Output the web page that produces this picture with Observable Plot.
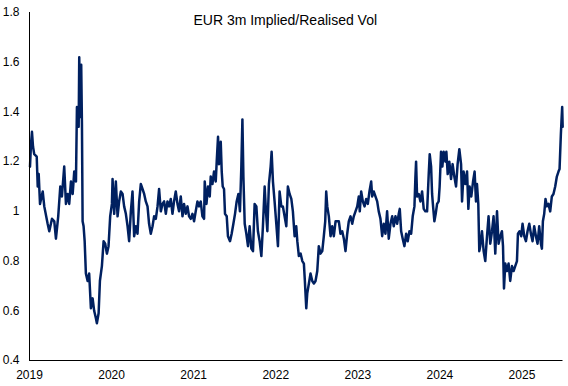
<!DOCTYPE html>
<html><head><meta charset="utf-8">
<script src="https://cdn.jsdelivr.net/npm/d3@7"></script>
<script src="https://cdn.jsdelivr.net/npm/@observablehq/plot@0.6"></script>
<style>body{margin:0;background:#fff;}</style>
</head><body><div id="chart"></div>
<script>
const title = "EUR 3m Implied/Realised Vol";
const yearTicks = [2019, 2020, 2021, 2022, 2023, 2024, 2025];
const yTicks = [0.4, 0.6, 0.8, 1, 1.2, 1.4, 1.6, 1.8];

// decimal-year dates of the readings
const dates = [
2019.006,2019.018,2019.030,2019.043,2019.058,2019.088,2019.100,2019.112,2019.128,2019.161,
2019.180,2019.221,2019.241,2019.274,2019.302,2019.322,2019.350,2019.375,2019.395,2019.423,
2019.444,2019.465,2019.484,2019.505,2019.526,2019.545,2019.566,2019.578,2019.599,2019.606,
2019.618,2019.630,2019.639,2019.647,2019.659,2019.672,2019.687,2019.708,2019.727,2019.748,
2019.769,2019.788,2019.809,2019.821,2019.842,2019.858,2019.882,2019.903,2019.922,2019.943,
2019.963,2019.983,2020.004,2020.012,2020.032,2020.052,2020.073,2020.092,2020.113,2020.134,
2020.153,2020.174,2020.195,2020.214,2020.235,2020.255,2020.275,2020.296,2020.316,2020.336,
2020.356,2020.377,2020.397,2020.417,2020.438,2020.457,2020.478,2020.499,2020.518,2020.539,
2020.560,2020.579,2020.600,2020.620,2020.640,2020.661,2020.681,2020.701,2020.721,2020.742,
2020.761,2020.782,2020.803,2020.822,2020.843,2020.864,2020.883,2020.904,2020.925,2020.944,
2020.965,2020.985,2021.005,2021.025,2021.046,2021.066,2021.086,2021.107,2021.127,2021.135,
2021.156,2021.175,2021.196,2021.208,2021.229,2021.248,2021.269,2021.281,2021.297,2021.309,
2021.330,2021.342,2021.354,2021.370,2021.382,2021.403,2021.418,2021.443,2021.463,2021.484,
2021.504,2021.524,2021.545,2021.564,2021.581,2021.594,2021.606,2021.622,2021.642,2021.662,
2021.682,2021.703,2021.723,2021.743,2021.764,2021.783,2021.804,2021.825,2021.844,2021.865,
2021.881,2021.898,2021.917,2021.938,2021.950,2021.966,2021.986,2022.007,2022.027,2022.047,
2022.068,2022.087,2022.108,2022.129,2022.148,2022.169,2022.190,2022.209,2022.230,2022.250,
2022.263,2022.282,2022.303,2022.324,2022.343,2022.355,2022.372,2022.384,2022.404,2022.424,
2022.445,2022.465,2022.485,2022.506,2022.525,2022.546,2022.567,2022.586,2022.603,2022.615,
2022.628,2022.647,2022.668,2022.688,2022.708,2022.729,2022.749,2022.769,2022.789,2022.810,
2022.830,2022.850,2022.871,2022.890,2022.911,2022.932,2022.951,2022.972,2022.993,2023.012,
2023.024,2023.041,2023.061,2023.082,2023.102,2023.122,2023.142,2023.163,2023.175,2023.194,
2023.215,2023.236,2023.255,2023.276,2023.297,2023.316,2023.337,2023.357,2023.377,2023.398,
2023.419,2023.438,2023.459,2023.479,2023.499,2023.511,2023.528,2023.547,2023.568,2023.589,
2023.608,2023.629,2023.650,2023.669,2023.690,2023.702,2023.710,2023.722,2023.742,2023.763,
2023.783,2023.803,2023.823,2023.844,2023.864,2023.876,2023.893,2023.905,2023.917,2023.933,
2023.949,2023.966,2023.985,2023.997,2024.014,2024.030,2024.046,2024.067,2024.079,2024.095,
2024.115,2024.136,2024.155,2024.176,2024.197,2024.216,2024.237,2024.258,2024.270,2024.289,
2024.310,2024.331,2024.347,2024.362,2024.383,2024.404,2024.423,2024.440,2024.452,2024.468,
2024.480,2024.492,2024.513,2024.533,2024.553,2024.574,2024.593,2024.614,2024.635,2024.654,
2024.675,2024.696,2024.715,2024.736,2024.756,2024.769,2024.781,2024.797,2024.817,2024.837,
2024.857,2024.878,2024.898,2024.918,2024.939,2024.951,2024.971,2024.991,2025.007,2025.028,
2025.048,2025.068,2025.089,2025.109,2025.129,2025.149,2025.170,2025.190,2025.210,2025.231,
2025.243,2025.255,2025.271,2025.287,2025.304,2025.323,2025.344,2025.364,2025.384,2025.405,
2025.425,2025.445,2025.458,2025.474,2025.481,2025.490,2025.496
];

// implied / realised vol ratio
const ratio = [
1.18,1.27,1.32,1.26,1.23,1.22,1.10,1.15,1.03,1.08,
1.02,0.95,0.92,0.97,0.96,0.89,0.98,1.10,1.06,1.18,
1.03,1.07,1.03,1.12,1.07,1.16,1.12,1.42,1.34,1.62,
1.38,1.59,1.35,0.96,0.94,0.88,0.75,0.72,0.75,0.61,
0.65,0.60,0.57,0.55,0.59,0.72,0.78,0.88,0.87,0.83,
0.86,0.98,1.03,1.13,0.99,1.12,0.98,1.04,1.08,1.07,
1.02,0.99,0.94,0.88,1.00,1.08,0.90,0.94,0.91,1.04,
1.11,1.09,1.07,1.04,1.02,0.95,0.91,0.94,0.98,0.97,
1.02,1.09,1.00,1.03,1.04,0.99,1.04,1.02,1.05,0.99,
1.04,1.08,1.03,1.00,1.06,0.98,1.03,0.99,1.02,0.98,
0.97,0.99,0.96,1.00,1.04,1.02,1.04,0.98,0.97,1.12,
1.03,1.10,1.06,1.14,1.11,1.16,1.12,1.20,1.30,1.19,
1.28,1.16,1.10,1.09,0.99,0.98,0.90,0.88,0.91,0.95,
0.99,1.04,1.07,1.00,1.18,1.37,1.14,0.95,0.91,0.86,
0.94,0.85,0.84,1.03,1.02,0.92,0.88,0.82,0.94,1.10,
1.00,0.92,1.11,1.18,1.24,1.12,1.04,0.95,0.86,1.08,
1.02,1.02,0.98,0.94,1.10,1.07,1.05,1.00,0.90,0.94,
0.88,0.82,0.83,0.80,0.79,0.72,0.61,0.67,0.71,0.75,
0.72,0.71,0.72,0.76,0.86,0.83,0.84,0.90,0.96,1.08,
1.02,0.98,0.90,0.94,0.90,0.96,0.96,0.96,0.91,0.92,
0.89,0.84,0.91,0.96,0.98,0.95,0.98,1.00,1.02,1.06,
1.00,1.08,1.04,1.02,1.05,1.03,1.08,1.12,1.06,1.08,
1.06,1.04,1.00,0.97,0.90,0.95,0.91,1.00,0.89,0.95,
0.98,0.94,0.98,0.95,0.99,1.01,0.92,0.89,0.86,0.91,
0.88,0.92,0.91,0.98,1.02,1.14,1.20,1.06,1.07,1.04,
1.08,1.01,1.00,1.00,1.15,1.23,1.18,1.07,1.02,0.96,
0.99,1.03,1.04,1.10,1.24,1.18,1.24,1.20,1.24,1.15,
1.20,1.13,1.19,1.14,1.10,1.19,1.25,1.19,1.04,1.16,
1.11,1.16,1.01,1.10,1.06,1.12,1.16,1.04,1.11,1.03,
0.84,0.86,0.92,0.84,0.80,0.90,0.98,0.87,0.92,0.98,
0.83,1.00,0.87,0.90,0.92,0.86,0.69,0.79,0.76,0.79,
0.72,0.78,0.76,0.78,0.80,0.91,0.92,0.90,0.95,0.90,
0.88,0.92,0.95,0.91,0.88,0.94,0.90,0.87,0.94,0.87,
0.85,0.96,0.99,1.05,1.02,1.03,1.00,1.06,1.07,1.10,
1.14,1.16,1.17,1.31,1.36,1.42,1.34
];

const data = dates.map((t, i) => ({t, v: ratio[i]}));

const chart = Plot.plot({
  width: 568,
  height: 386,
  marginLeft: 29,
  marginRight: 5.5,
  marginTop: 12,
  marginBottom: 26,
  style: {fontFamily: "'Liberation Sans', Arial, sans-serif", fontSize: "12px", color: "#000", background: "#fff"},
  x: {domain: [2019, 2025.5], ticks: yearTicks, tickFormat: d => String(d), tickSize: 0, tickPadding: 10, label: null},
  y: {domain: [0.4, 1.8], ticks: yTicks, tickFormat: d => d === 1 ? "1" : d.toFixed(1), tickSize: 0, tickPadding: 10, label: null},
  marks: [
    Plot.line(data, {x: "t", y: "v", stroke: "#002060", strokeWidth: 2.5}),
    Plot.ruleX([2019], {stroke: "#000", strokeWidth: 1}),
    Plot.ruleY([0.4], {stroke: "#000", strokeWidth: 1}),
    Plot.text([title], {text: d => d, frameAnchor: "top", dx: -11, dy: 3, fontSize: 14, fill: "#000"})
  ]
});
document.getElementById("chart").appendChild(chart);
</script>
</body></html>
